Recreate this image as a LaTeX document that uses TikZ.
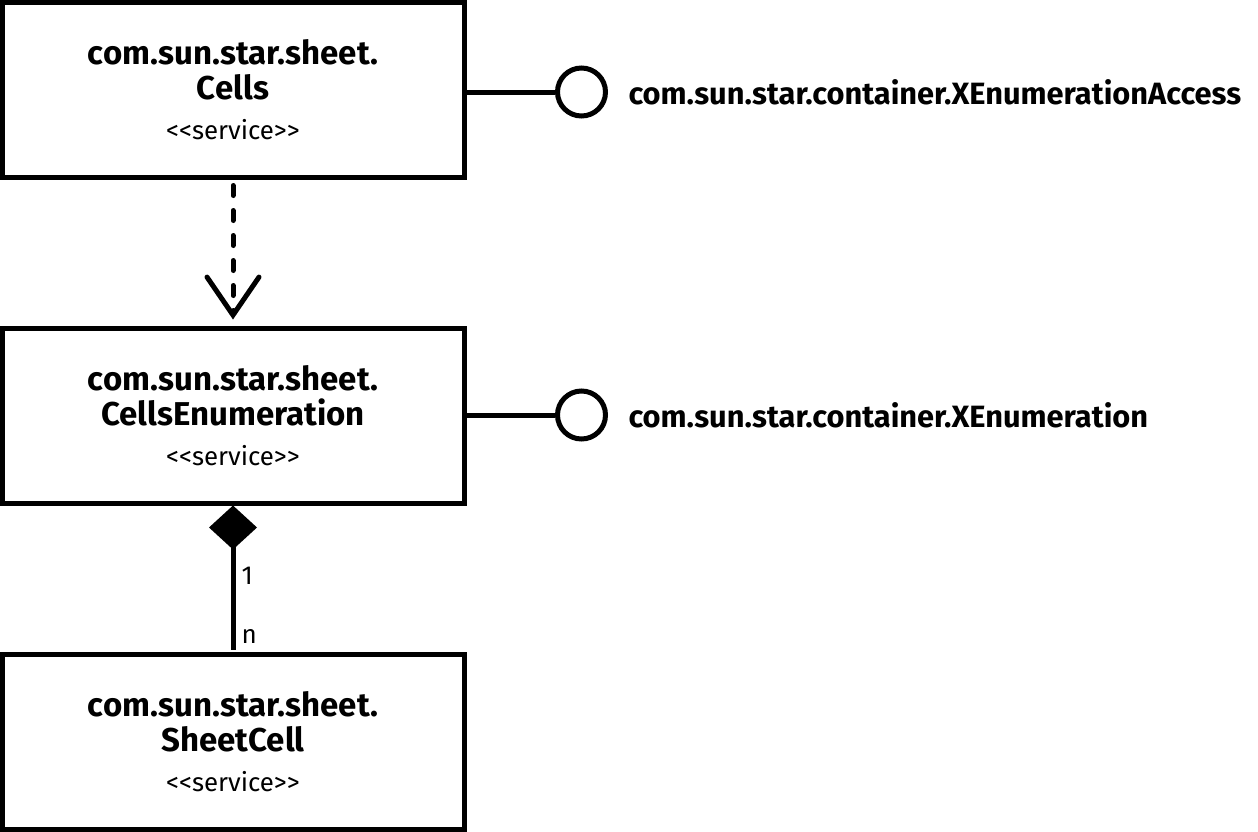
\documentclass[tikz,border=0pt]{standalone}
\usepackage{fontspec}
\setmainfont{Fira Sans}
\usetikzlibrary{arrows.meta}
\newcommand{\Px}{0.5pt}
\tikzset{Service/.style={
    inner sep=0pt,
    minimum width=231pt,
    minimum height=87.5pt,
    draw=black,
    line width=2.5pt,
    align=center,
    font=\fontsize{16.5}{17.5}\selectfont\bfseries,
    }
}
\newcommand{\Stereo}{{\mdseries\fontsize{12.9}{14}\selectfont <{}<service>{}>}}
\begin{document}
\begin{tikzpicture}[x=\Px, y=-\Px, line width=2.5pt,
    Lolli/.style={circle, draw=black, inner sep=0pt, minimum size=24pt},
    Iface/.style={anchor=west, inner sep=0pt, font=\fontsize{15.4}{18}\selectfont\bfseries},
    Mult/.style={anchor=west, inner sep=0pt, font=\fontsize{13}{15}\selectfont},
    Depend/.style={line cap=round, dash pattern=on 5pt off 7.5pt,
        -{Straight Barb[length=19pt, width=26pt, line cap=round]},
        shorten <=3pt, shorten >=3pt},
    Compose/.style={{Diamond[length=22pt, width=24pt]}-, shorten >=1pt},
]
\useasboundingbox (0,0) rectangle (1258,831);
% services
\node [Service] (cells) at (233,89.5) {com.sun.star.sheet.\\Cells\\[2.5pt]\Stereo};
\node [Service] (cellsenum) at (233,415.5) {com.sun.star.sheet.\\CellsEnumeration\\[2.5pt]\Stereo};
\node [Service] (sheetcell) at (233,741.5) {com.sun.star.sheet.\\SheetCell\\[2.5pt]\Stereo};
% interfaces
\node [Lolli] (access) at (581.5,92) {};
\node [Iface] (accessname) at (626,92) {com.sun.star.container.XEnumerationAccess};
\node [Lolli] (enum) at (581.5,415) {};
\node [Iface] (enumname) at (626,415) {com.sun.star.container.XEnumeration};
\draw (cells.east |- access.west) -- (access.west);
\draw (cellsenum.east |- enum.west) -- (enum.west);
% relations
\draw [Depend] (cells) -- (cellsenum);
\draw [Compose] (cellsenum) -- (sheetcell)
    node [Mult, pos=0.48, xshift=3pt] {1}
    node [Mult, pos=0.9, xshift=3pt] {n};
\end{tikzpicture}
\end{document}
